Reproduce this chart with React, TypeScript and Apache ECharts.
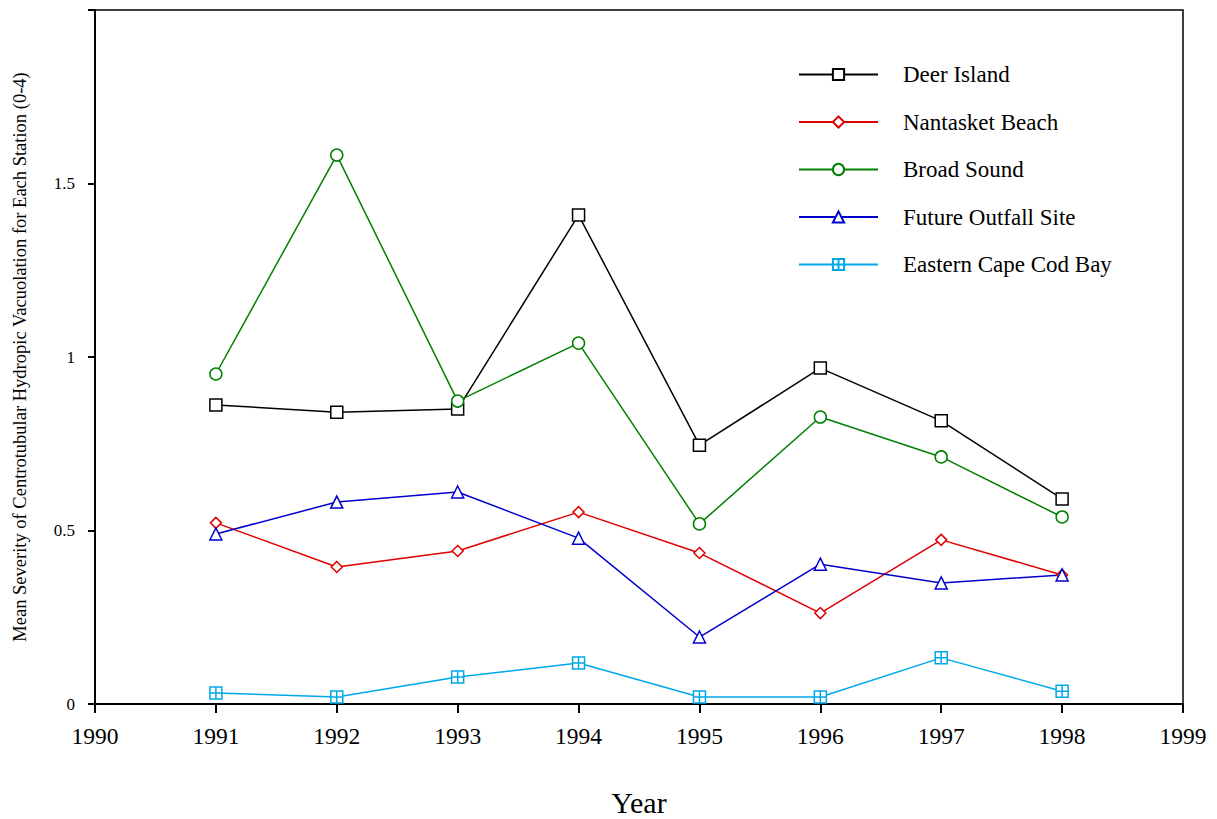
import React, { useEffect, useRef } from "react";
import * as echarts from "echarts";

const years = [1991, 1992, 1993, 1994, 1995, 1996, 1997, 1998];
const deerIsland = [0.862, 0.841, 0.85, 1.409, 0.746, 0.968, 0.816, 0.591];
const nantasketBeach = [0.522, 0.395, 0.441, 0.553, 0.435, 0.262, 0.473, 0.372];
const broadSound = [0.951, 1.582, 0.873, 1.04, 0.519, 0.827, 0.712, 0.539];
const futureOutfall = [0.49, 0.582, 0.611, 0.478, 0.193, 0.403, 0.349, 0.372];
const easternCapeCod = [0.032, 0.02, 0.078, 0.118, 0.02, 0.02, 0.133, 0.037];

const seriesNames = [
  "Deer Island",
  "Nantasket Beach",
  "Broad Sound",
  "Future Outfall Site",
  "Eastern Cape Cod Bay",
];

const FONT = "'Liberation Serif', 'Times New Roman', serif";

export default function App() {
  const ref = useRef<HTMLDivElement>(null);
  useEffect(() => {
    if (!ref.current) return;
    const chart = echarts.init(ref.current, undefined, { renderer: "svg" });
    const pair = (arr: number[]) => years.map((y, i) => [y, arr[i]]);
    const mk = (
      name: string,
      data: number[],
      color: string,
      symbol: string,
      size: number
    ) => ({
      type: "line",
      name,
      data: pair(data),
      symbol,
      symbolSize: size,
      showAllSymbol: true,
      lineStyle: { color, width: 1.5 },
      itemStyle: { color: "#fff", borderColor: color, borderWidth: 1.5 },
      emphasis: { disabled: true },
      z: 3,
    });
    chart.setOption({
      animation: false,
      backgroundColor: "#fff",
      grid: {
        left: 95,
        right: 34,
        top: 10,
        bottom: 115,
        outerBoundsMode: "none",
        containLabel: false,
        show: true,
        borderColor: "#000",
        borderWidth: 1.5,
      },
      legend: {
        orient: "vertical",
        left: 798,
        top: 63,
        padding: 0,
        itemWidth: 79,
        itemHeight: 14,
        itemGap: 24.5,
        data: seriesNames,
        textStyle: {
          fontFamily: FONT,
          fontSize: 23,
          color: "#000",
          padding: [0, 0, 0, 20],
        },
      },
      xAxis: {
        type: "value",
        min: 1990,
        max: 1999,
        interval: 1,
        name: "Year",
        nameLocation: "middle",
        nameGap: 83,
        nameTextStyle: { fontFamily: FONT, fontSize: 30, color: "#000" },
        axisLine: { lineStyle: { color: "#000", width: 2 } },
        axisTick: { length: 9, lineStyle: { color: "#000", width: 2 } },
        axisLabel: {
          fontFamily: FONT,
          fontSize: 23.5,
          color: "#000",
          margin: 20,
          formatter: (v: number) => String(v),
        },
        splitLine: { show: false },
      },
      yAxis: {
        type: "value",
        min: 0,
        max: 2,
        interval: 0.5,
        name: "Mean Severity of Centrotubular Hydropic Vacuolation for Each Station (0-4)",
        nameLocation: "middle",
        nameGap: 66,
        nameTextStyle: { fontFamily: FONT, fontSize: 18.5, color: "#000" },
        axisLine: { lineStyle: { color: "#000", width: 2 } },
        axisTick: { length: 7, lineStyle: { color: "#000", width: 2 } },
        axisLabel: {
          fontFamily: FONT,
          fontSize: 17,
          color: "#000",
          margin: 20,
          formatter: (v: number) => (v === 2 ? "" : String(v)),
        },
        splitLine: { show: false },
      },
      series: [
        mk(seriesNames[0], deerIsland, "#000000", "rect", 12),
        mk(seriesNames[1], nantasketBeach, "#e00000", "diamond", 11),
        mk(seriesNames[2], broadSound, "#008000", "circle", 12),
        mk(seriesNames[3], futureOutfall, "#0000cc", "triangle", 12),
        mk(
          seriesNames[4],
          easternCapeCod,
          "#00a8e8",
          "path://M0,0H10V10H0Z M5,0V10 M0,5H10",
          12
        ),
      ],
    });
    return () => chart.dispose();
  }, []);
  return (
    <div
      ref={ref}
      style={{ position: "absolute", left: 0, top: 0, width: 1217, height: 819 }}
    />
  );
}
